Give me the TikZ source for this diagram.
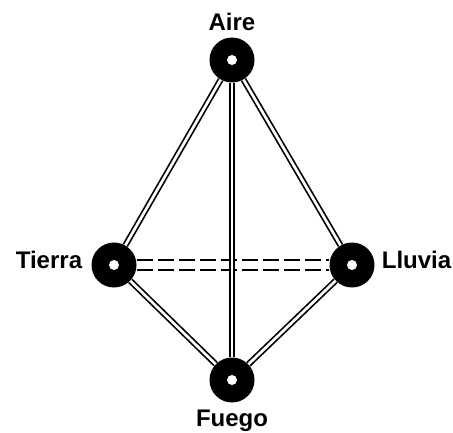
\documentclass[tikz,border=0pt]{standalone}
\usepackage{fontspec}
\setmainfont{Liberation Sans}
\usetikzlibrary{positioning}
\tikzset{
  ring/.style={
    circle,
    fill=black,
    inner sep=0pt,
    minimum size=45pt,
    path picture={\fill[white] (path picture bounding box.center) circle (5pt);}
  },
  word/.style={
    inner sep=0pt,
    font=\bfseries\fontsize{24}{28}\selectfont
  },
  rod/.style={
    draw,
    line width=1.7pt,
    double=white,
    double distance=2.7pt
  },
  dashrod/.style={
    draw,
    line width=1.4pt,
    double=white,
    double distance=8.2pt,
    dash pattern=on 16pt off 5pt
  }
}

\begin{document}
\begin{tikzpicture}[x=1pt,y=-1pt]
    \useasboundingbox (0,0) rectangle (453,433);
    \node[ring] (aire) at (232,60) {};
    \node[ring] (tierra) at (114,265) {};
    \node[ring] (lluvia) at (352,265) {};
    \node[ring] (fuego) at (232,380) {};
    \node[word, above=6pt of aire] (aireL) {Aire};
    \node[word, below=7pt of fuego] (fuegoL) {Fuego};
    \node[word, left=9pt of tierra, yshift=5pt] (tierraL) {Tierra};
    \node[word, right=7pt of lluvia, yshift=5pt] (lluviaL) {Lluvia};
    % rods
    \path[dashrod] (tierra) -- (lluvia);
    \path[rod] (aire) -- (tierra);
    \path[rod] (aire) -- (lluvia);
    \path[rod] (tierra) -- (fuego);
    \path[rod] (lluvia) -- (fuego);
    \path[rod] (aire) -- (fuego);
\end{tikzpicture}
\end{document}
